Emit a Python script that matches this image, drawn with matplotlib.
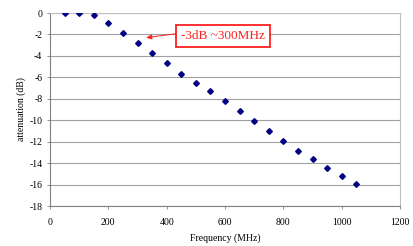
import matplotlib
matplotlib.use("Agg")
import matplotlib.pyplot as plt

freq_mhz = [50, 100, 150, 200, 250, 300, 350, 400, 450, 500, 550,
            600, 650, 700, 750, 800, 850, 900, 950, 1000, 1050]
atten_db = [0.0, 0.0, -0.15, -0.95, -1.85, -2.8, -3.7, -4.7, -5.65, -6.5, -7.25,
            -8.25, -9.15, -10.1, -11.0, -11.95, -12.85, -13.6, -14.45, -15.2, -15.95]
x_ticks = [0, 200, 400, 600, 800, 1000, 1200]
y_ticks = [0, -2, -4, -6, -8, -10, -12, -14, -16, -18]
annot_text = "-3dB ~300MHz"

plt.rcParams['font.family'] = ['Liberation Serif', 'DejaVu Serif']

fig = plt.figure(figsize=(4.14, 2.46), dpi=100)
ax = fig.add_axes([0.1208, 0.1626, 0.9662 - 0.1208, 0.947 - 0.1626])

ax.plot(freq_mhz, atten_db, linestyle='none', marker='D', markersize=2.9,
        color='#000080', zorder=3)

ax.set_xlim(0, 1200)
ax.set_ylim(-18, 0)
ax.set_xticks(x_ticks)
ax.set_yticks(y_ticks)
ax.set_yticklabels([str(v) for v in y_ticks])
ax.grid(axis='y', color='#a0a0a0', linewidth=0.8)
ax.set_axisbelow(True)
ax.tick_params(labelsize=7, length=2.5, width=0.6, colors='#808080', labelcolor='black')
ax.tick_params(axis='y', pad=3)
ax.tick_params(axis='x', pad=6)

for side in ['left', 'bottom']:
    ax.spines[side].set_color('#808080')
    ax.spines[side].set_linewidth(0.8)
for side in ['top', 'right']:
    ax.spines[side].set_color('#c0c0c0')
    ax.spines[side].set_linewidth(0.8)

ax.set_xlabel('Frequency (MHz)', fontsize=7, labelpad=5)
ax.set_ylabel('attenuation (dB)', fontsize=7, labelpad=2)

ax.annotate(annot_text, xy=(329, -2.3), xytext=(593, -2.15),
            fontsize=9.5, color='#ff2020', ha='center', va='center',
            bbox=dict(boxstyle='square,pad=0.35', fc='white', ec='#ff2020', lw=1.3),
            arrowprops=dict(arrowstyle='-|>,head_length=0.35,head_width=0.15',
                            color='#ff2020', lw=0.7, shrinkA=0, shrinkB=0,
                            relpos=(0.0, 0.75)))

fig.savefig('out.png', dpi=100)
